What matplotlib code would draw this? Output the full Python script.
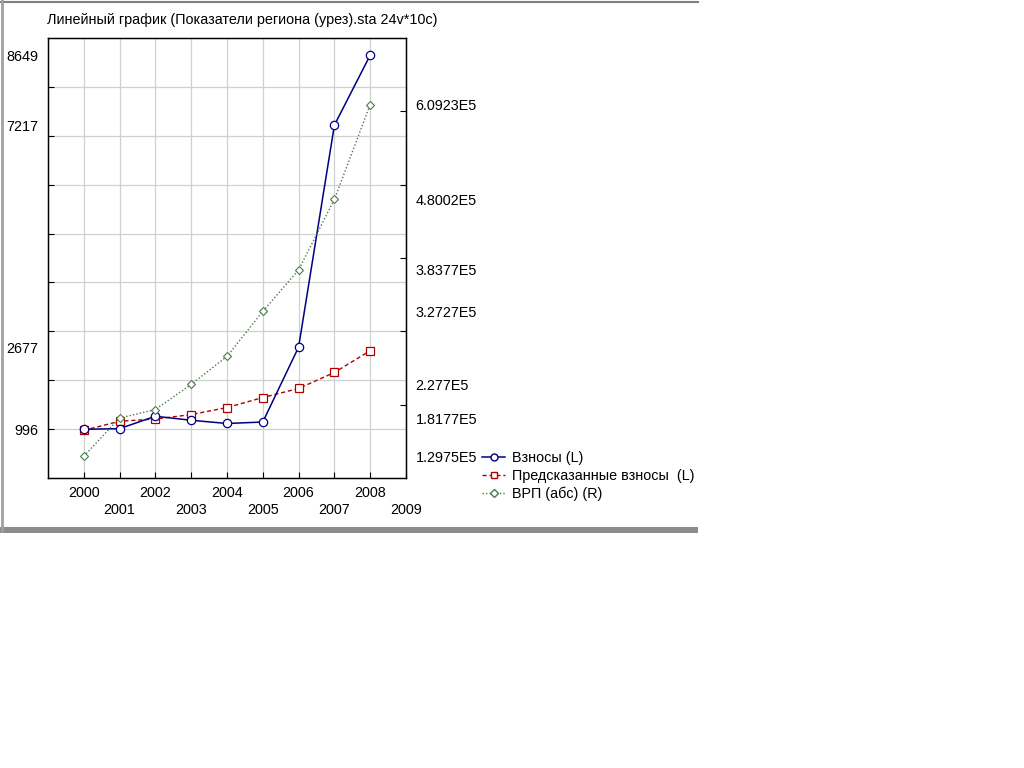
import matplotlib
matplotlib.use("Agg")
import matplotlib.pyplot as plt
from matplotlib.ticker import FixedLocator
from matplotlib.lines import Line2D
from matplotlib.patches import Rectangle

# ---- data ----
years = [2000, 2001, 2002, 2003, 2004, 2005, 2006, 2007, 2008]
vznosy = [996, 1010, 1263, 1181, 1115, 1145, 2677, 7217, 8649]
predicted = [976, 1160, 1207, 1297, 1441, 1646, 1831, 2159, 2603]
vrp = [129750, 181770, 193400, 227700, 265900, 327270, 383770, 480020, 609230]

x_ticks = [2000, 2001, 2002, 2003, 2004, 2005, 2006, 2007, 2008, 2009]
left_label_values = [996, 2677, 7217, 8649]
left_label_text = ["996", "2677", "7217", "8649"]
left_grid = [1000, 2000, 3000, 4000, 5000, 6000, 7000, 8000]
right_label_values = [129750, 181770, 227700, 327270, 383770, 480020, 609230]
right_label_text = ["1.2975E5", "1.8177E5", "2.277E5", "3.2727E5", "3.8377E5", "4.8002E5", "6.0923E5"]
right_ticks = [200000, 300000, 400000, 500000, 600000]

title = "Линейный график (Показатели региона (урез).sta 24v*10c)"
names = ["Взносы (L)", "Предсказанные взносы  (L)", "ВРП (абс) (R)"]

plt.rcParams['font.family'] = ['Liberation Sans', 'DejaVu Sans']
FS = 10.4

W, H = 1024, 768
fig = plt.figure(figsize=(W / 100, H / 100), dpi=100)
fig.patch.set_facecolor('white')

def px(x, y):
    return x / W, 1 - y / H

# window frame
fig.add_artist(Line2D([0, 698 / W], [1 - 1.5 / H] * 2, color='#808080', lw=1.5, transform=fig.transFigure))
fig.add_artist(Line2D([1.5 / W] * 2, [1 - 531 / H, 1], color='#a0a0a0', lw=2, transform=fig.transFigure))
fig.add_artist(Rectangle((0, 1 - 533 / H), 698 / W, 6 / H, color='#8c8c8c', transform=fig.transFigure, lw=0))

L, R, T, B = 48, 406, 38, 478
ax = fig.add_axes([L / W, 1 - B / H, (R - L) / W, (B - T) / H])
ax.set_xlim(1999, 2009)
ax.set_ylim(0, 9000)

navy = '#000080'
red = '#b00000'
green = '#4a7a4a'

ax.plot(years, vznosy, color=navy, lw=1.1, marker='o', ms=6, mfc='white', mec=navy, mew=0.9, zorder=4)
ax.plot(years, predicted, color=red, lw=1.0, ls=(0, (3, 2)), marker='s', ms=6, mfc='white', mec=red, mew=0.9, zorder=3)

ax.set_axisbelow(True)
ax.xaxis.set_major_locator(FixedLocator(x_ticks))
ax.set_xticklabels([str(y) if i % 2 == 0 else "\n" + str(y) for i, y in enumerate(x_ticks)], fontsize=FS, linespacing=1.2)
ax.yaxis.set_major_locator(FixedLocator(left_label_values))
ax.set_yticklabels(left_label_text, fontsize=FS)
ax.yaxis.set_minor_locator(FixedLocator(left_grid))
ax.tick_params(axis='y', which='major', length=0, pad=7)
ax.tick_params(axis='y', which='minor', direction='in', length=4, width=0.8, color='black')
ax.tick_params(axis='x', which='major', direction='in', length=4, width=0.8, pad=6)
ax.grid(axis='x', which='major', color='#d0d0d0', lw=0.9)
ax.grid(axis='y', which='minor', color='#d0d0d0', lw=0.9)
for s in ax.spines.values():
    s.set_linewidth(1.0)

ax2 = ax.twinx()
ax2.set_ylim(100000, 700000)
ax2.plot(years, vrp, color=green, lw=1.0, ls=(0, (1, 1.5)), marker='D', ms=4.5, mfc='white', mec=green, mew=0.8, zorder=5)
ax2.yaxis.set_major_locator(FixedLocator(right_label_values))
ax2.set_yticklabels(right_label_text, fontsize=FS)
ax2.yaxis.set_minor_locator(FixedLocator(right_ticks))
ax2.tick_params(axis='y', which='major', length=0, pad=7)
ax2.tick_params(axis='y', which='minor', direction='in', length=4, width=0.8)

fig.text(47 / W, 1 - 20 / H, title, fontsize=FS, ha='left', va='center')

handles = [
    Line2D([], [], color=navy, lw=1.1, marker='o', ms=5, mfc='white', mec=navy),
    Line2D([], [], color=red, lw=1.0, ls=(0, (3, 2)), marker='s', ms=5, mfc='white', mec=red),
    Line2D([], [], color=green, lw=1.0, ls=(0, (1, 1.5)), marker='D', ms=4, mfc='white', mec=green),
]
fig.legend(handles, names, loc='upper left', bbox_to_anchor=px(482, 451), frameon=False,
           fontsize=FS, handlelength=1.6, handletextpad=0.5, labelspacing=0.25, borderpad=0, borderaxespad=0)

fig.savefig('out.png', dpi=100)
